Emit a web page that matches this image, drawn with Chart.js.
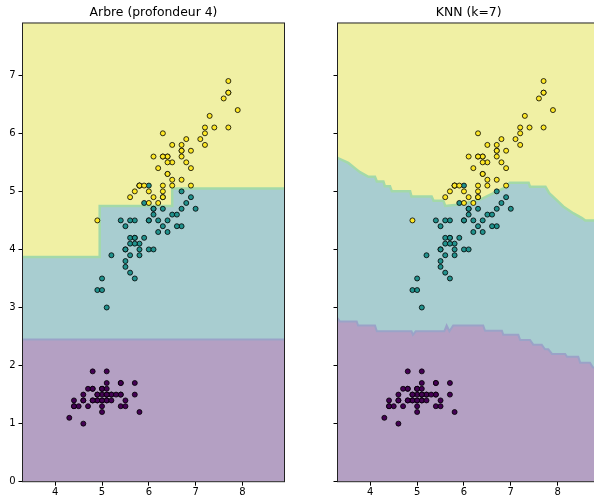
<!DOCTYPE html>
<html>
<head>
<meta charset="utf-8">
<script src="https://cdn.jsdelivr.net/npm/chart.js@4.4.0/dist/chart.umd.min.js"></script>
<style>
  html, body { margin: 0; padding: 0; background: #fff; overflow: hidden; }
  #wrap { position: relative; width: 594px; height: 497px; overflow: hidden; }
  #treeBox { position: absolute; left: 0; top: 0; width: 300px; height: 497px; }
  #knnBox { position: absolute; left: 300px; top: 0; width: 310px; height: 497px; }
</style>
</head>
<body>
<div id="wrap">
  <div id="treeBox"><canvas id="treeChart" width="300" height="497"></canvas></div>
  <div id="knnBox"><canvas id="knnChart" width="310" height="497"></canvas></div>
</div>
<script>
// iris : longueur du sépale (x) / longueur du pétale (y)
const setosaX = [5.1,4.9,4.7,4.6,5.0,5.4,4.6,5.0,4.4,4.9,5.4,4.8,4.8,4.3,5.8,5.7,5.4,5.1,5.7,5.1,5.4,5.1,4.6,5.1,4.8,5.0,5.0,5.2,5.2,4.7,4.8,5.4,5.2,5.5,4.9,5.0,5.5,4.9,4.4,5.1,5.0,4.5,4.4,5.0,5.1,4.8,5.1,4.6,5.3,5.0];
const setosaY = [1.4,1.4,1.3,1.5,1.4,1.7,1.4,1.5,1.4,1.5,1.5,1.6,1.4,1.1,1.2,1.5,1.3,1.4,1.7,1.5,1.7,1.5,1.0,1.7,1.9,1.6,1.6,1.5,1.4,1.6,1.6,1.5,1.5,1.4,1.5,1.2,1.3,1.4,1.3,1.5,1.3,1.3,1.3,1.6,1.9,1.4,1.6,1.4,1.5,1.4];
const versiX = [7.0,6.4,6.9,5.5,6.5,5.7,6.3,4.9,6.6,5.2,5.0,5.9,6.0,6.1,5.6,6.7,5.6,5.8,6.2,5.6,5.9,6.1,6.3,6.1,6.4,6.6,6.8,6.7,6.0,5.7,5.5,5.5,5.8,6.0,5.4,6.0,6.7,6.3,5.6,5.5,5.5,6.1,5.8,5.0,5.6,5.7,5.7,6.2,5.1,5.7];
const versiY = [4.7,4.5,4.9,4.0,4.6,4.5,4.7,3.3,4.6,3.9,3.5,4.2,4.0,4.7,3.6,4.4,4.5,4.1,4.5,3.9,4.8,4.0,4.9,4.7,4.3,4.4,4.8,5.0,4.5,3.5,3.8,3.7,3.9,5.1,4.5,4.5,4.7,4.4,4.1,4.0,4.4,4.6,4.0,3.3,4.2,4.2,4.2,4.3,3.0,4.1];
const virgiX = [6.3,5.8,7.1,6.3,6.5,7.6,4.9,7.3,6.7,7.2,6.5,6.4,6.8,5.7,5.8,6.4,6.5,7.7,7.7,6.0,6.9,5.6,7.7,6.3,6.7,7.2,6.2,6.1,6.4,7.2,7.4,7.9,6.4,6.3,6.1,7.7,6.3,6.4,6.0,6.9,6.7,6.9,5.8,6.8,6.7,6.7,6.3,6.5,6.2,5.9];
const virgiY = [6.0,5.1,5.9,5.6,5.8,6.6,4.5,6.3,5.8,6.1,5.1,5.3,5.5,5.0,5.1,5.3,5.5,6.7,6.9,5.0,5.7,4.9,6.7,4.9,5.7,6.0,4.8,4.9,5.6,5.8,6.1,6.4,5.6,5.1,5.6,6.1,5.6,5.5,4.8,5.4,5.6,5.1,5.1,5.9,5.7,5.2,5.0,5.2,5.4,5.1];

// frontières de l'arbre
const treeLowX = [3.3, 8.9];
const treeLowY = [2.45, 2.45];
const treeUpX = [3.3, 4.95, 6.5, 8.9];
const treeUpY = [3.87, 4.75, 5.05, 5.05];

// frontières du KNN
const knnUpX = [3.3, 3.32, 3.53, 3.67, 3.78, 3.96, 4.1, 4.14, 4.28, 4.31, 4.42, 4.46, 4.85, 4.88, 5.31, 5.35, 5.56, 5.6, 5.85, 6.06, 6.38, 6.63, 6.84, 6.98, 7.38, 7.41, 7.74, 7.82, 7.98, 8.12, 8.34, 8.52, 8.59, 8.9];
const knnUpY = [5.58, 5.57, 5.49, 5.40, 5.33, 5.25, 5.25, 5.17, 5.17, 5.09, 5.09, 5.00, 5.00, 4.91, 4.91, 4.84, 4.84, 4.75, 4.77, 4.80, 4.87, 4.97, 5.05, 5.15, 5.15, 5.08, 5.08, 4.97, 4.85, 4.74, 4.62, 4.54, 4.50, 4.50];
const knnLowX = [3.3, 3.35, 3.71, 3.74, 4.1, 4.14, 4.88, 4.91, 4.97, 5.58, 5.63, 5.69, 5.77, 6.41, 6.45, 6.81, 6.84, 7.16, 7.2, 7.41, 7.48, 7.66, 7.73, 7.8, 7.88, 8.16, 8.2, 8.44, 8.48, 8.69, 8.75, 8.9];
const knnLowY = [2.82, 2.76, 2.76, 2.69, 2.69, 2.59, 2.59, 2.53, 2.59, 2.59, 2.69, 2.59, 2.69, 2.69, 2.6, 2.6, 2.53, 2.53, 2.44, 2.44, 2.36, 2.36, 2.28, 2.28, 2.2, 2.2, 2.15, 2.15, 2.05, 2.05, 1.97, 1.95];

const xTicks = [4, 5, 6, 7, 8];
const yTicks = [0, 1, 2, 3, 4, 5, 6, 7];

const cPurple = '#440154', cTeal = '#21918c', cYellow = '#fde725';
const fPurple = '#b4a0c3', fTeal = '#a8cdd0', fYellow = '#f0f0a4';

function pts(xs, ys) {
    return xs.map((x, i) => ({ x: x, y: ys[i] }));
}

function pointSet(xs, ys, color, order) {
    return {
        type: 'scatter',
        data: pts(xs, ys),
        backgroundColor: color,
        borderColor: '#000',
        borderWidth: 0.8,
        pointRadius: 2.5,
        pointHoverRadius: 2.5,
        order: order
    };
}

function regions(lowX, lowY, upX, upY, stepped) {
    const base = { type: 'line', showLine: true, pointRadius: 0, clip: 0, stepped: stepped, tension: 0 };
    return [
        Object.assign({}, base, { data: pts(lowX, lowY), fill: 'start', backgroundColor: fPurple, borderWidth: 0, order: 30 }),
        Object.assign({}, base, { data: pts(lowX, lowY), fill: 'end', backgroundColor: fTeal, borderColor: '#9aa3c8', borderWidth: 2, order: 20 }),
        Object.assign({}, base, { data: pts(upX, upY), fill: 'end', backgroundColor: fYellow, borderColor: '#a3d9a8', borderWidth: 2.5, order: 10 })
    ];
}

const framePlugin = {
    id: 'frame',
    afterDatasetsDraw(chart) {
        const { ctx, chartArea: a } = chart;
        ctx.save();
        ctx.strokeStyle = '#222';
        ctx.lineWidth = 1;
        ctx.strokeRect(a.left, a.top, a.right - a.left, a.bottom - a.top);
        ctx.restore();
    }
};

function makeOptions(title, yLabels, yWidth, rightPad) {
    const tickFont = { family: 'DejaVu Sans', size: 10 };
    return {
        responsive: false,
        animation: false,
        events: [],
        layout: { padding: { left: 0, right: rightPad, top: 0, bottom: 0 } },
        plugins: {
            legend: { display: false },
            tooltip: { enabled: false },
            title: {
                display: true,
                text: title,
                fullSize: false,
                color: '#000',
                font: { family: 'DejaVu Sans', size: 12.4, weight: 'normal' },
                padding: { top: 5, bottom: 3.1 }
            }
        },
        scales: {
            x: {
                type: 'linear',
                min: 3.3,
                max: 8.9,
                afterBuildTicks: s => { s.ticks = xTicks.map(v => ({ value: v })); },
                afterFit: s => { s.height = 15.3; },
                ticks: { font: tickFont, color: '#000', padding: 1, maxRotation: 0, autoSkip: false },
                grid: { drawOnChartArea: false, drawTicks: true, tickLength: 4, color: '#000' },
                border: { display: false }
            },
            y: {
                type: 'linear',
                min: 0,
                max: 7.9,
                afterBuildTicks: s => { s.ticks = yTicks.map(v => ({ value: v })); },
                afterFit: s => { s.width = yWidth; },
                ticks: { display: yLabels, font: tickFont, color: '#000', padding: 3, autoSkip: false },
                grid: { drawOnChartArea: false, drawTicks: true, tickLength: 4, color: '#000' },
                border: { display: false }
            }
        }
    };
}

// Arbre de décision
new Chart(document.getElementById('treeChart').getContext('2d'), {
    type: 'scatter',
    data: {
        datasets: [
            pointSet(virgiX, virgiY, cYellow, 0),
            pointSet(versiX, versiY, cTeal, 1),
            pointSet(setosaX, setosaY, cPurple, 2)
        ].concat(regions(treeLowX, treeLowY, treeUpX, treeUpY, 'before'))
    },
    options: makeOptions('Arbre (profondeur 4)', true, 22.5, 15.5),
    plugins: [framePlugin]
});

// KNN
new Chart(document.getElementById('knnChart').getContext('2d'), {
    type: 'scatter',
    data: {
        datasets: [
            pointSet(virgiX, virgiY, cYellow, 0),
            pointSet(versiX, versiY, cTeal, 1),
            pointSet(setosaX, setosaY, cPurple, 2)
        ].concat(regions(knnLowX, knnLowY, knnUpX, knnUpY, false))
    },
    options: makeOptions('KNN (k=7)', false, 37.5, 10.2),
    plugins: [framePlugin]
});
</script>
</body>
</html>
